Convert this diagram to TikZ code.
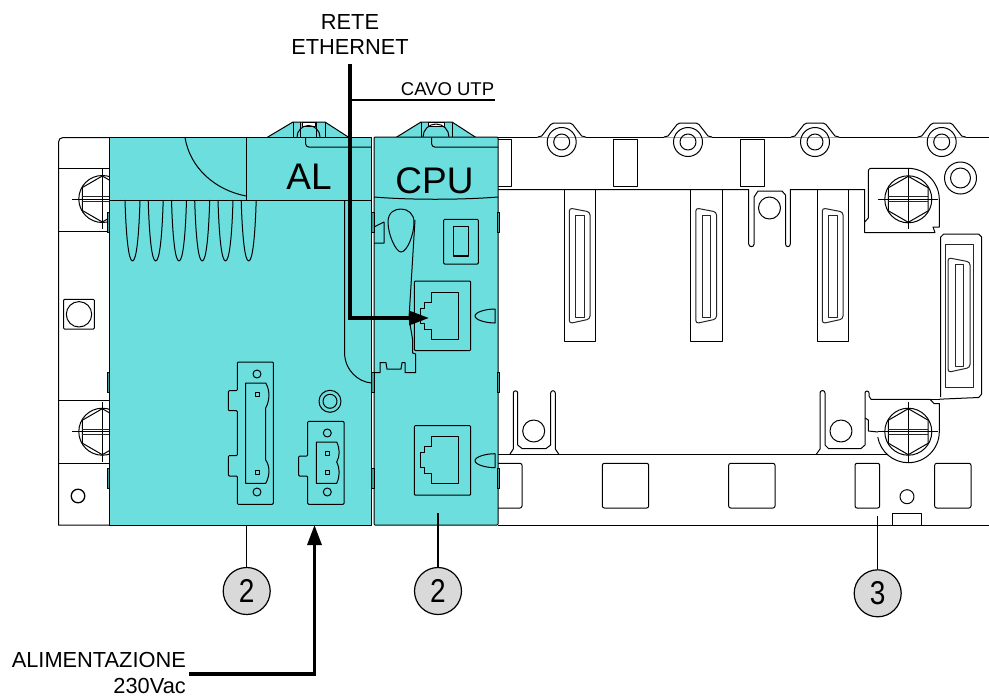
\documentclass[tikz,border=0pt]{standalone}
\usepackage{fontspec}
\setmainfont{Liberation Sans}
\usetikzlibrary{arrows.meta}
\definecolor{modteal}{HTML}{6CDEDE}
\definecolor{callgray}{HTML}{D9D9D9}
\tikzset{
  ln/.style={draw=black,line width=1pt,line join=round},
  thinln/.style={draw=black!85,line width=1pt,line join=round},
  heavy/.style={draw=black,line width=3.2pt,line join=miter},
  tip/.style={-{Triangle[length=20pt,width=14pt]}},
  lab/.style={inner sep=0pt,font=\fontsize{21.8}{25}\selectfont,align=center},
  mod/.style={inner sep=0pt,font=\fontsize{37}{40}\selectfont},
  callout/.style={circle,draw=black,line width=1.2pt,fill=callgray,minimum size=47pt,inner sep=0pt,font=\fontsize{33}{35}\selectfont},
  pointer/.style={draw=black,line width=1.2pt}
}
\newcommand{\slotconn}[1]{% strip with sub-D connector, #1 = strip left
  \begin{scope}[shift={(#1,0)}]
    \draw[ln] (0,189.5) -- (0,341.5) -- (31.5,341.5) -- (31.5,189.5);
    \draw[thinln,rounded corners=3pt] (5.3,208) -- (26,212) -- (26,319) -- (5.3,323.5) -- cycle;
    \draw[thinln] (11.5,215) rectangle (20,317.5);
  \end{scope}}
\newcommand{\rail}[1]{% top lug with ring, #1 = centre x
  \begin{scope}[shift={(#1,0)}]
    \fill[white] (-24,137.5) -- (-12,123) -- (12,123) -- (24,137.5) -- cycle;
    \draw[ln] (-24,137) -- (-20,136) -- (-11,124.5) -- (-8,123) -- (8,123) -- (11,124.5) -- (20,136) -- (24,137);
    \draw[ln] (0,142) circle (14.5);
    \draw[ln] (0,142) circle (8);
  \end{scope}}
\newcommand{\screw}[2]{% hex screw, centre #1,#2
  \begin{scope}[shift={(#1,#2)}]
    \draw[ln] (0,0) circle (23.5);
    \draw[ln] (90:23) -- (30:23) -- (-30:23) -- (-90:23) -- (-150:23) -- (150:23) -- cycle;
    \draw[ln] (-30,0) -- (30,0);
    \draw[ln] (0,-30) -- (0,30);
    \draw[thinln] (-20,-2.5) -- (20,-2.5);
    \draw[thinln] (-20,2.5) -- (20,2.5);
  \end{scope}}
\newcommand{\jack}[1]{% RJ45, #1 = y offset
  \begin{scope}[shift={(0,#1)}]
    \draw[ln,rounded corners=1pt] (414.3,281) rectangle (470.7,350.5);
    \draw[ln] (431.7,292) -- (458,292) -- (458,339) -- (431.7,339) -- (431.7,329) -- (424.7,329) -- (424.7,323) -- (420,323) -- (420,308) -- (424.7,308) -- (424.7,302) -- (431.7,302) -- cycle;
    \draw[ln] (495,309) -- (495,323) .. controls (486,323) and (475,320) .. (475,316) .. controls (475,312) and (486,309) .. (495,309) -- cycle;
  \end{scope}}
\newcommand{\blockrect}[4]{\draw[ln,rounded corners=2pt] (#1,#4) -- (#1,#3) -- (#2,#3) -- (#2,#4) -- cycle;}
\begin{document}
\begin{tikzpicture}[x=1pt,y=-1pt]
\useasboundingbox (0,0) rectangle (989,697);
\fill[white] (0,0) rectangle (989,697);

% ---- left end of the rail
\draw[ln] (109,137.5) -- (63,137.5) arc[start angle=270,end angle=180,radius=4.5] -- (58.5,525) -- (109,525);
\draw[ln] (58.5,168) -- (109,168);
\draw[ln] (58.5,231) -- (109,231);
\draw[ln] (58.5,400.7) -- (109,400.7);
\draw[ln] (58.5,463) -- (109,463);
\screw{102.3}{199}
\screw{102.3}{431.7}
\draw[ln,rounded corners=1pt] (63.5,299.3) rectangle (94.3,329);
\draw[ln] (79,314.3) circle (12.7);
\draw[ln,line width=1.3pt] (78,496) circle (6.8);

% ---- right part of the rail
\draw[ln] (498,137) -- (989,137);
\rail{561.7}\rail{688}\rail{815}\rail{941.7}
\draw[ln] (498,139) -- (511,139) -- (511,186.7) -- (498,186.7);
\draw[ln] (613.3,139) rectangle (637.7,186.7);
\draw[ln] (740,139) rectangle (764.3,186.7);
\draw[ln] (960.5,178) circle (16);
\draw[ln] (960.5,178) circle (10);
\draw[ln] (498,189.5) -- (748.7,189.5) -- (748.7,244) .. controls (748.7,247.5) and (754.1,247.5) .. (754.1,244) -- (754.1,197) -- (758,191) -- (782,191) -- (785.5,195) -- (785.5,244) .. controls (785.5,247.5) and (790.3,247.5) .. (790.3,244) -- (790.3,189.5) -- (864.7,189.5) -- (864.7,222);
\draw[ln] (864.7,222) -- (868.3,218) -- (868.3,171) arc[start angle=180,end angle=270,radius=2.7] -- (908,168.3) arc[start angle=-90,end angle=0,radius=31.3] -- (939.3,227) -- (933,227) -- (935,232.7) -- (864.7,232.7) -- cycle;
\draw[ln] (769.5,208) circle (11);
\screw{908.3}{199.3}
\slotconn{564}\slotconn{690.5}\slotconn{817}
% right side connector
\draw[ln] (940.7,397) -- (940.7,237) -- (943.7,234) -- (978.7,234) -- (981.7,237) -- (981.7,394) -- (978.7,397.5) -- (943.7,399) -- (939,399.3);
\draw[thinln] (945.7,244) rectangle (973.3,387);
\draw[thinln,rounded corners=3pt] (948,257.7) -- (970,262) -- (970,367.5) -- (948,372.3) -- cycle;
\draw[thinln] (955,264.3) rectangle (963.7,366.7);
% lower rail
\draw[ln] (498,454) -- (887,454);
% first lower fork
\draw[ln] (510,454) -- (513.3,449) -- (513.3,393) arc[start angle=180,end angle=360,radius=2.2] -- (517.7,445) -- (522,448.5) -- (546,448.5) -- (550.7,445) -- (550.7,393) arc[start angle=180,end angle=360,radius=2.3] -- (555.3,449) -- (558.7,454);
\draw[ln] (533.7,431) circle (11);
% second lower fork and block
\draw[ln] (816.5,454) -- (820,449) -- (820,393) arc[start angle=180,end angle=360,radius=2.5] -- (825,445) -- (828.5,448.5) -- (861,448.5) -- (865,445) -- (865,393) arc[start angle=180,end angle=360,radius=2] -- (869,396) -- (871,399.3) -- (930,399.3) -- (934,403.5) -- (939.3,403.5) -- (939.3,431.7) arc[start angle=0,end angle=170,radius=31];
\draw[ln] (930,399.3) -- (939,399.3);
\draw[ln] (865,418) -- (868.3,420) -- (868.3,431) -- (878,432);
\draw[ln] (841,431) circle (11);
\screw{908.3}{431.7}
\draw[ln,rounded corners=2pt] (498,463.3) -- (522,463.3) -- (522,508) -- (498,508);
\blockrect{602.3}{648.7}{463.3}{508}
\blockrect{728.7}{775}{463.3}{508}
\blockrect{855}{879.7}{463.3}{508}
\blockrect{934.7}{971}{463.3}{508}
\draw[ln] (907,496.7) circle (7);
\draw[ln] (892.3,525) -- (892.3,513.3) -- (921.7,513.3) -- (921.7,525);
\draw[ln] (498,525) -- (989,525);

% ---- teal modules
\draw[ln,fill=modteal] (267,137.5) -- (293,122) -- (325,122) -- (349,137.5) -- cycle;
\draw[ln] (293,122) -- (293,137.5) (300,122) -- (300,137.5) (316,122) -- (316,137.5) (325,122) -- (325,137.5);
\draw[ln,fill=white] (302,122) rectangle (315,126);
\draw[ln] (297,137) arc[start angle=180,end angle=360,radius=11.5];
\draw[ln,fill=modteal] (396,137.5) -- (421,122) -- (452,122) -- (476,137.5) -- cycle;
\draw[ln] (421,122) -- (421,137.5) (452,122) -- (452,137.5);
\draw[ln,fill=white] (428,122) rectangle (444,126);
\draw[ln] (423,137) arc[start angle=180,end angle=360,radius=13];

\draw[ln,fill=modteal] (109,137.5) rectangle (371.5,525);
\draw[ln,fill=modteal,rounded corners=1pt] (374,137) rectangle (498,525);
% edge clips
\foreach \yy in {212,372,468}{
  \draw[ln,fill=modteal!70!black] (107,\yy) rectangle (109,\yy+20);
  \draw[ln,fill=modteal!70!black] (371,\yy) rectangle (374,\yy+20);
  \draw[ln,fill=modteal!70!black] (497,\yy) rectangle (499,\yy+20);
}
% AL details
\draw[ln] (109,200) -- (371.5,200);
\draw[ln] (246,137.5) -- (246,200);
\draw[ln] (185,137.5) .. controls (190,168) and (215,190) .. (246,196);
\draw[ln] (305.7,137.5) -- (305.7,144) arc[start angle=180,end angle=90,radius=3] -- (371.5,147);
\foreach \xx in {132.5,155.7,179,202.2,225.5,248.7}{
  \draw[ln] (\xx-7.5,200) .. controls (\xx-6.5,235) and (\xx-4,261) .. (\xx,261) .. controls (\xx+4,261) and (\xx+6.5,235) .. (\xx+7.5,200);
}
\draw[ln] (344.5,200) -- (344.5,352) .. controls (344.5,370) and (358,382) .. (371.5,383);
% AL terminal connectors
\draw[ln,rounded corners=1pt] (237.3,362) -- (273.3,362) -- (273.3,504.3) -- (237.3,504.3) -- (237.3,476) -- (228.3,476) -- (228.3,455.7) -- (237.3,455.7) -- (237.3,410.7) -- (228.3,410.7) -- (228.3,390.7) -- (237.3,390.7) -- cycle;
\draw[ln] (245.7,383) -- (265.7,383) .. controls (270,390) and (270,400) .. (265.7,408) -- (265.7,460) .. controls (270,466) and (270,476) .. (265.7,483.3) -- (245.7,483.3) -- cycle;
\draw[ln] (255,392) rectangle (259,396) (255,470.7) rectangle (259,474.7);
\draw[ln] (257,374) circle (4) (257,492) circle (4);
\draw[ln,rounded corners=1pt] (307.7,421.3) -- (344,421.3) -- (344,504.3) -- (307.7,504.3) -- (307.7,476) -- (298.7,476) -- (298.7,456) -- (307.7,456) -- cycle;
\draw[ln] (316.3,442) -- (336.7,442) .. controls (340,449) and (340,456) .. (336.7,462) .. controls (340,469) and (340,476) .. (336.7,483.3) -- (316.3,483.3) -- cycle;
\draw[ln] (325.7,451) rectangle (329.7,455) (325.7,470.7) rectangle (329.7,474.7);
\draw[ln] (327.3,433) circle (4) (327.3,492) circle (4);
\draw[ln] (330,401.3) circle (11) (330,401.3) circle (7);
% CPU details
\draw[ln] (374,197) .. controls (410,200) and (460,200) .. (498,197);
\draw[ln] (431.7,137.5) -- (431.7,144) arc[start angle=180,end angle=90,radius=3] -- (498,147);
\draw[ln] (388,222) .. controls (388,212) and (395,209) .. (401,209) .. controls (408,209) and (414,214) .. (414,222) .. controls (414,235) and (407,252) .. (401,252) .. controls (396,252) and (388,235) .. (388,222) -- cycle;
\draw[ln] (415,220) -- (409,318);
\draw[ln] (374,227) -- (384,222) -- (384,243) -- (374,243);
\draw[ln,rounded corners=1pt] (443.7,219.3) rectangle (478.3,264);
\draw[ln,line width=1.5pt] (453.5,226.7) rectangle (468.5,256);
\jack{0}\jack{144.7}
\draw[ln] (409,318) -- (412.7,340) -- (412.7,353) -- (415.7,354) -- (415.7,372.7) -- (405,372.7) -- (405,362.7) -- (402,362.7) -- (401,369) -- (387,369) -- (386,362.7) -- (380,362.7) -- (380,372.7) -- (374,372.7);

% ---- labels
\node[mod,anchor=center] (al) at (309,176.5) {AL};
\node[mod,anchor=center] (cpu) at (434.5,181) {CPU};
\node[lab] (rete) at (350,34) {RETE\\ETHERNET};
\node[inner sep=0pt,anchor=base,font=\fontsize{18.5}{20}\selectfont] (utp) at (447.5,95) {CAVO UTP};
\node[lab,align=right,anchor=north east,font=\fontsize{21.8}{26}\selectfont] (power) at (186,652) {ALIMENTAZIONE\\230Vac};

\coordinate (utpend) at (495,100);
\coordinate (utpstart) at (350,100);
\coordinate (reteout) at (350,64);
\coordinate (retebend) at (350,318);
\coordinate (jackin) at (429,318);
\coordinate (powout) at (189,674);
\coordinate (powbend) at (314.5,674);
\coordinate (powin) at (314.5,525);

\draw[ln,line width=1.2pt] (utpstart) -- (utpend);
\draw[heavy,tip] (reteout) -- (retebend) -- (jackin);
\draw[heavy,tip] (powout) -- (powbend) -- (powin);

\node[callout] (c2a) at (246.7,591) {\scalebox{.85}[1]{2}};
\node[callout] (c2b) at (438,591) {\scalebox{.85}[1]{2}};
\node[callout] (c3) at (877.7,593.3) {\scalebox{.85}[1]{3}};
\coordinate (p2a) at (246.7,526);
\coordinate (p2b) at (438,513);
\coordinate (p3) at (877.7,516);
\draw[pointer] (p2a) -- (c2a);
\draw[pointer] (p2b) -- (c2b);
\draw[pointer] (p3) -- (c3);
\end{tikzpicture}
\end{document}
